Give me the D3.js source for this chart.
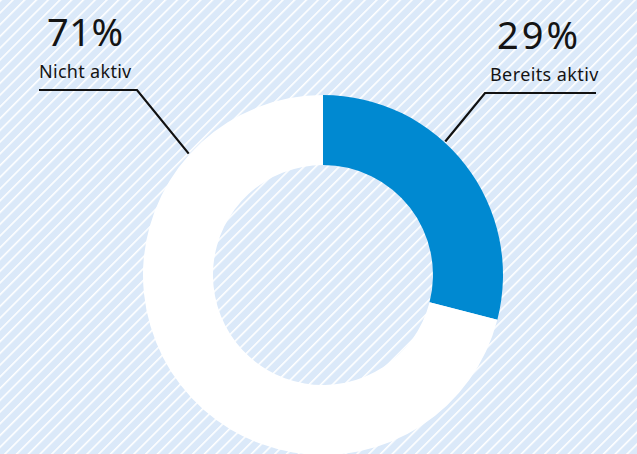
<!DOCTYPE html>
<html>
<head>
<meta charset="utf-8">
<script src="https://cdn.jsdelivr.net/npm/d3@7"></script>
<style>
  html, body { margin: 0; padding: 0; background: #dbe9f9; }
  svg { display: block; }
  text { font-family: "Noto Sans", sans-serif; fill: #141414; }
</style>
</head>
<body>
<div id="chart"></div>
<script>
  // data
  const categories = ["Bereits aktiv", "Nicht aktiv"];
  const shares = [29, 71];
  const colors = ["#0089d1", "#ffffff"];

  const w = 637;
  const h = 454;
  const cx = 323;
  const cy = 275;
  const outerR = 180;
  const innerR = 110;

  const svg = d3.select("#chart").append("svg")
    .attr("width", w)
    .attr("height", h);

  // striped background
  const defs = svg.append("defs");
  const pattern = defs.append("pattern")
    .attr("id", "stripes")
    .attr("patternUnits", "userSpaceOnUse")
    .attr("width", 8.3)
    .attr("height", 8.3)
    .attr("patternTransform", "rotate(45)");
  pattern.append("rect")
    .attr("width", 8.3).attr("height", 8.3)
    .attr("fill", "#dbe9f9");
  pattern.append("rect")
    .attr("x", 0).attr("width", 1.6).attr("height", 8.3)
    .attr("fill", "#ffffff");

  svg.append("rect")
    .attr("width", w).attr("height", h)
    .attr("fill", "url(#stripes)");

  const data = categories.map((c, i) => ({ name: c, value: shares[i], color: colors[i] }));

  const pie = d3.pie()
    .sort(null)
    .value(d => d.value);

  const arc = d3.arc()
    .innerRadius(innerR)
    .outerRadius(outerR);

  const g = svg.append("g")
    .attr("transform", "translate(" + cx + "," + cy + ")");

  const arcs = pie(data);

  g.selectAll("path.slice")
    .data(arcs)
    .join("path")
      .attr("class", "slice")
      .attr("d", arc)
      .attr("fill", d => d.data.color);

  // labels + leader lines
  const labelLayout = [
    { angle: 42.5, elbow: [485, 93], end: 596, pctX: 497, pctY: 49, pctSpace: 3, nameX: 490, nameY: 81, nameSpace: 0.4 },
    { angle: -47.9, elbow: [137, 90], end: 39, pctX: 47, pctY: 46, pctSpace: 0.5, nameX: 39, nameY: 78, nameSpace: 0.3 }
  ];

  arcs.forEach((a, i) => {
    const L = labelLayout[i];
    const rad = L.angle * Math.PI / 180;
    const px = cx + (outerR + 1) * Math.sin(rad);
    const py = cy - (outerR + 1) * Math.cos(rad);

    svg.append("path")
      .attr("d", d3.line()([[px, py], L.elbow, [L.end, L.elbow[1]]]))
      .attr("fill", "none")
      .attr("stroke", "#111")
      .attr("stroke-width", 2.2);

    svg.append("text")
      .attr("x", L.pctX)
      .attr("y", L.pctY)
      .style("font-size", "38px")
      .style("letter-spacing", L.pctSpace + "px")
      .text(a.data.value + "%");

    svg.append("text")
      .attr("x", L.nameX)
      .attr("y", L.nameY)
      .style("font-size", "18px")
      .style("letter-spacing", L.nameSpace + "px")
      .text(a.data.name);
  });
</script>
</body>
</html>
